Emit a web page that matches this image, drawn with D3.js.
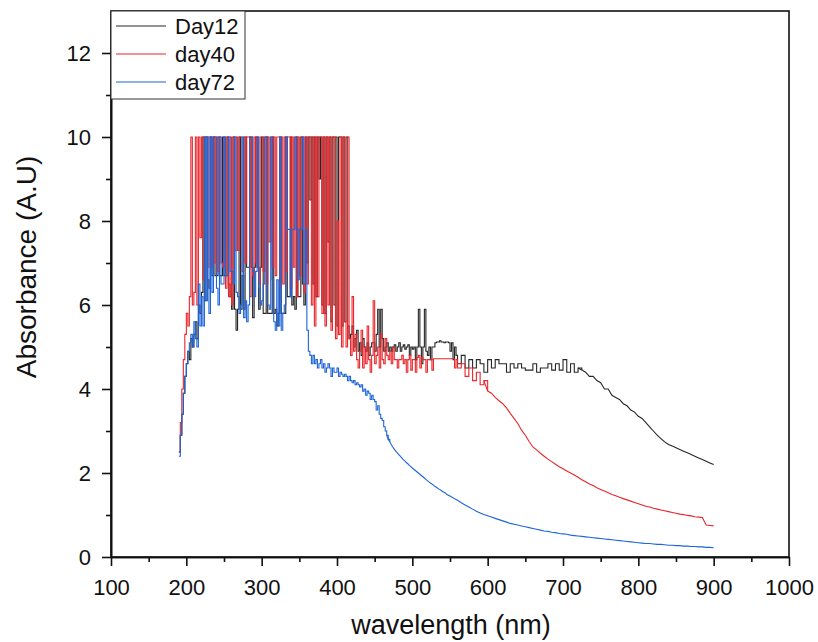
<!DOCTYPE html>
<html>
<head>
<meta charset="utf-8">
<script src="https://cdn.jsdelivr.net/npm/d3@7"></script>
<style>
  body { margin: 0; background: #fff; }
  svg { display: block; font-family: "Liberation Sans", Arial, sans-serif; }
</style>
</head>
<body>
<div class="chart"></div>
<script>
// measurement grid: 2 nm steps in the noisy UV part, 5 nm after that
const fineNm = d3.range(190, 560, 2);
const coarseNm = d3.range(560, 901, 5);

const seriesNames = ["Day12", "day40", "day72"];
const seriesColors = ["#262626", "#e8262b", "#1f64d8"];

const day12Fine = [
  2.5, 2.9, 3.4, 3.9, 4.3, 4.6, 4.9, 4.7, 5.2, 5.0, // 190-208
  5.3, 5.6, 5.2, 6.0, 5.8, 6.3, 10, 6.1, 10, 6.6, // 210-228
  6.4, 10, 6.7, 10, 6.7, 6.7, 10, 6.7, 6.7, 10, // 230-248
  6.7, 6.7, 10, 6.5, 6.2, 5.9, 10, 5.9, 5.4, 5.9, // 250-268
  10, 5.9, 6.7, 5.9, 10, 6.9, 6.9, 10, 6.9, 5.7, // 270-288
  6.9, 10, 6.9, 5.9, 6.9, 10, 5.8, 5.8, 10, 5.8, // 290-308
  5.8, 5.8, 10, 5.8, 5.9, 5.5, 5.8, 10, 5.8, 5.8, // 310-328
  5.8, 10, 6.2, 6.2, 10, 6.0, 6.2, 5.9, 10, 6.2, // 330-348
  6.2, 10, 6.5, 6.0, 10, 7.0, 10, 8.5, 10, 6.5, // 350-368
  10, 6.2, 10, 9.0, 10, 6.0, 10, 5.8, 10, 7.5, // 370-388
  10, 5.6, 10, 6.0, 10, 5.5, 10, 10, 5.5, 10, // 390-408
  5.6, 10, 5.5, 5.2, 5.3, 5.5, 5.0, 5.2, 5.4, 4.9, // 410-428
  5.1, 4.8, 5.2, 5.0, 4.9, 5.1, 4.8, 5.0, 5.1, 5.1, // 430-448
  4.9, 5.3, 5.9, 5.0, 5.9, 5.2, 4.9, 5.0, 5.1, 4.9, // 450-468
  5.0, 4.9, 5.0, 5.05, 4.9, 5.0, 5.1, 4.9, 5.0, 5.05, // 470-488
  4.95, 5.0, 5.05, 4.8, 5.0, 4.95, 5.0, 4.7, 5.0, 5.9, // 490-508
  5.0, 4.6, 5.0, 5.9, 4.9, 4.8, 5.0, 4.7, 5.0, 5.0, // 510-528
  5.1, 5.12, 5.12, 5.15, 5.12, 5.12, 5.1, 5.12, 5.12, 5.1, // 530-548
  4.9, 5.1, 4.7, 5.0, 4.8 // 550-558
];
const day12Coarse = [
  4.6, 4.8, 4.5, 4.7, 4.5, 4.7, 4.6, 4.4, 4.7, 4.5, // 560-605
  4.7, 4.6, 4.6, 4.4, 4.6, 4.5, 4.6, 4.5, 4.45, 4.45, // 610-655
  4.6, 4.4, 4.5, 4.5, 4.6, 4.45, 4.6, 4.45, 4.7, 4.4, // 660-705
  4.6, 4.4, 4.5, 4.45, 4.4, 4.3, 4.3, 4.2, 4.15, 4.0, // 710-755
  4.0, 3.85, 3.8, 3.75, 3.65, 3.6, 3.5, 3.45, 3.35, 3.3, // 760-805
  3.2, 3.1, 3.0, 2.9, 2.82, 2.74, 2.68, 2.64, 2.6, 2.56, // 810-855
  2.52, 2.48, 2.44, 2.4, 2.36, 2.32, 2.28, 2.24, 2.2 // 860-900
];

const day40Fine = [
  2.5, 3.2, 4.0, 4.7, 5.3, 5.8, 5.5, 6.2, 10, 6.0, // 190-208
  6.3, 10, 6.0, 10, 7.6, 10, 6.6, 10, 10, 6.9, // 210-228
  10, 10, 6.9, 10, 7.0, 10, 6.8, 10, 7.0, 6.9, // 230-248
  10, 6.4, 10, 6.2, 10, 6.0, 10, 7.3, 10, 7.3, // 250-268
  10, 10, 6.8, 10, 7.0, 10, 10, 6.2, 10, 6.7, // 270-288
  10, 7.0, 10, 6.5, 10, 10, 6.8, 10, 6.5, 10, // 290-308
  7.5, 10, 6.9, 10, 6.7, 10, 10, 6.4, 10, 6.5, // 310-328
  10, 6.8, 10, 10, 6.4, 10, 6.9, 10, 6.2, 10, // 330-348
  6.7, 10, 10, 6.3, 10, 6.5, 10, 10, 6.0, 10, // 350-368
  5.5, 10, 6.2, 10, 10, 5.8, 10, 5.5, 10, 6.0, // 370-388
  10, 5.4, 10, 10, 5.2, 8.0, 5.3, 10, 5.0, 10, // 390-408
  5.6, 5.0, 10, 5.2, 4.8, 6.2, 4.9, 5.3, 4.7, 4.5, // 410-428
  4.9, 5.4, 4.5, 5.0, 4.6, 5.5, 4.7, 4.4, 4.8, 6.1, // 430-448
  4.6, 4.8, 5.0, 4.5, 5.3, 4.7, 4.6, 5.2, 4.8, 4.7, // 450-468
  4.9, 4.6, 5.0, 4.7, 4.7, 4.5, 4.7, 4.7, 4.8, 4.6, // 470-488
  4.7, 4.4, 4.7, 4.8, 4.45, 4.7, 4.7, 4.4, 4.75, 4.8, // 490-508
  4.5, 4.75, 4.7, 4.7, 4.4, 4.7, 4.7, 4.7, 4.45, 4.72, // 510-528
  4.72, 4.72, 4.72, 4.72, 4.72, 4.72, 4.72, 4.72, 4.72, 4.72, // 530-548
  4.72, 4.72, 4.72, 4.5, 4.7 // 550-558
];
const day40Coarse = [
  4.5, 4.6, 4.3, 4.5, 4.2, 4.4, 4.1, 4.2, 3.95, 3.9, // 560-605
  3.8, 3.72, 3.65, 3.55, 3.42, 3.3, 3.18, 3.02, 2.9, 2.75, // 610-655
  2.62, 2.55, 2.47, 2.4, 2.33, 2.27, 2.21, 2.15, 2.1, 2.05, // 660-705
  2.0, 1.95, 1.9, 1.84, 1.79, 1.74, 1.7, 1.65, 1.61, 1.57, // 710-755
  1.53, 1.49, 1.46, 1.42, 1.39, 1.36, 1.33, 1.3, 1.27, 1.24, // 760-805
  1.21, 1.19, 1.16, 1.14, 1.12, 1.1, 1.08, 1.06, 1.04, 1.02, // 810-855
  1.01, 0.99, 0.98, 0.96, 0.95, 0.94, 0.76, 0.75, 0.74 // 860-900
];

const day72Fine = [
  2.4, 2.9, 3.4, 3.9, 4.3, 4.6, 4.9, 5.1, 5.3, 5.0, // 190-208
  5.6, 5.2, 5.0, 6.5, 5.5, 6.2, 5.5, 10, 6.1, 10, // 210-228
  5.8, 10, 6.3, 10, 10, 6.4, 6.0, 10, 6.5, 6.5, // 230-248
  10, 6.7, 6.7, 10, 6.8, 6.8, 6.5, 10, 6.3, 6.2, // 250-268
  5.8, 6.0, 10, 5.7, 6.1, 5.6, 6.0, 10, 10, 6.8, // 270-288
  6.2, 6.8, 10, 6.4, 6.0, 6.1, 6.5, 10, 10, 6.0, // 290-308
  5.9, 10, 6.6, 5.6, 5.4, 6.6, 5.5, 10, 5.4, 5.8, // 310-328
  6.0, 10, 7.8, 7.8, 6.2, 7.8, 7.8, 10, 7.8, 6.6, // 330-348
  7.8, 7.8, 10, 6.5, 7.8, 5.4, 4.9, 4.8, 4.6, 4.8, // 350-368
  4.6, 4.7, 4.5, 4.6, 4.7, 4.5, 4.6, 4.4, 4.5, 4.6, // 370-388
  4.5, 4.3, 4.5, 4.4, 4.4, 4.5, 4.3, 4.4, 4.35, 4.3, // 390-408
  4.35, 4.3, 4.2, 4.3, 4.2, 4.15, 4.2, 4.1, 4.15, 4.1, // 410-428
  4.05, 4.1, 3.95, 4.0, 3.85, 3.95, 3.9, 3.75, 3.85, 3.75, // 430-448
  3.7, 3.5, 3.6, 3.4, 3.3, 3.25, 3.1, 3.0, 2.9, 2.8, // 450-468
  2.75, 2.68, 2.62, 2.57, 2.52, 2.48, 2.44, 2.4, 2.36, 2.32, // 470-488
  2.29, 2.25, 2.22, 2.18, 2.15, 2.12, 2.09, 2.06, 2.03, 2.0, // 490-508
  1.97, 1.94, 1.91, 1.88, 1.85, 1.82, 1.79, 1.76, 1.74, 1.71, // 510-528
  1.68, 1.66, 1.63, 1.61, 1.59, 1.56, 1.54, 1.52, 1.49, 1.47, // 530-548
  1.45, 1.43, 1.41, 1.39, 1.37 // 550-558
];
const day72Coarse = [
  1.35, 1.29, 1.24, 1.19, 1.14, 1.09, 1.05, 1.01, 0.98, 0.95, // 560-605
  0.92, 0.89, 0.86, 0.83, 0.8, 0.78, 0.76, 0.74, 0.72, 0.7, // 610-655
  0.68, 0.66, 0.64, 0.62, 0.61, 0.59, 0.58, 0.56, 0.55, 0.54, // 660-705
  0.52, 0.51, 0.5, 0.49, 0.48, 0.47, 0.46, 0.45, 0.44, 0.43, // 710-755
  0.42, 0.41, 0.4, 0.39, 0.38, 0.37, 0.36, 0.35, 0.34, 0.33, // 760-805
  0.32, 0.32, 0.31, 0.3, 0.3, 0.29, 0.28, 0.28, 0.27, 0.27, // 810-855
  0.26, 0.26, 0.25, 0.25, 0.24, 0.24, 0.23, 0.23, 0.22 // 860-900
];

const xMajorTicks = [100, 200, 300, 400, 500, 600, 700, 800, 900, 1000];
const xMinorTicks = [150, 250, 350, 450, 550, 650, 750, 850, 950];
const yMajorTicks = [0, 2, 4, 6, 8, 10, 12];
const yMinorTicks = [1, 3, 5, 7, 9, 11];

const width = 818;
const height = 642;
const margin = { top: 11, right: 29, bottom: 85, left: 111 };

// where each trace stops looking stepped (the detector noise region)
const stepEnds = [725, 600, 470];

const svg = d3
  .select("div.chart")
  .append("svg")
  .attr("width", width)
  .attr("height", height);

const x = d3.scaleLinear().domain([100, 1000]).range([margin.left, width - margin.right]);
const y = d3.scaleLinear().domain([0, 13]).range([height - margin.bottom, margin.top]);

// zip grid + values into point lists
const allNm = fineNm.concat(coarseNm);
const seriesValues = [
  day12Fine.concat(day12Coarse),
  day40Fine.concat(day40Coarse),
  day72Fine.concat(day72Coarse),
];
const series = seriesNames.map((name, i) => ({
  name: name,
  color: seriesColors[i],
  stepEnd: stepEnds[i],
  points: seriesValues[i]
    .map((v, j) => ({ nm: allNm[j], a: v }))
    .filter((p) => p.nm !== undefined),
}));

const stepLine = d3
  .line()
  .curve(d3.curveStepAfter)
  .x((d) => x(d.nm))
  .y((d) => y(d.a));

const smoothLine = d3
  .line()
  .x((d) => x(d.nm))
  .y((d) => y(d.a));

const traces = svg
  .append("g")
  .selectAll("g")
  .data(series)
  .enter()
  .append("g")
  .attr("fill", "none")
  .attr("stroke", (d) => d.color)
  .attr("stroke-width", 1.1);

traces
  .append("path")
  .attr("d", (d) => stepLine(d.points.filter((p) => p.nm <= d.stepEnd)));

traces
  .append("path")
  .attr("d", (d) => smoothLine(d.points.filter((p) => p.nm >= d.stepEnd - 5)));

// frame: top + right lines
svg
  .append("rect")
  .attr("x", margin.left)
  .attr("y", margin.top)
  .attr("width", width - margin.right - margin.left)
  .attr("height", height - margin.bottom - margin.top)
  .attr("fill", "none")
  .attr("stroke", "#111")
  .attr("stroke-width", 1.6);

// axes, major + minor
const xAxisG = svg.append("g").attr("transform", `translate(0, ${height - margin.bottom})`);
xAxisG.call(
  d3.axisBottom(x).tickValues(xMajorTicks).tickSize(9).tickSizeOuter(0).tickPadding(13).tickFormat(d3.format("d"))
);
xAxisG
  .append("g")
  .call(d3.axisBottom(x).tickValues(xMinorTicks).tickSize(5).tickSizeOuter(0).tickFormat(""));

const yAxisG = svg.append("g").attr("transform", `translate(${margin.left}, 0)`);
yAxisG.call(
  d3.axisLeft(y).tickValues(yMajorTicks).tickSize(9).tickSizeOuter(0).tickPadding(11).tickFormat(d3.format("d"))
);
yAxisG
  .append("g")
  .call(d3.axisLeft(y).tickValues(yMinorTicks).tickSize(5).tickSizeOuter(0).tickFormat(""));

svg.selectAll(".domain").attr("stroke", "#111").attr("stroke-width", 1.6);
svg.selectAll(".tick line").attr("stroke", "#111").attr("stroke-width", 1.6);
svg
  .selectAll(".tick text")
  .attr("fill", "#111")
  .style("font-size", "22px")
  .style("font-family", '"Liberation Sans", Arial, sans-serif');

// axis titles
svg
  .append("text")
  .attr("x", 451)
  .attr("y", 634)
  .attr("text-anchor", "middle")
  .attr("fill", "#111")
  .style("font-size", "27px")
  .text("wavelength (nm)");

svg
  .append("text")
  .attr("transform", "translate(36, 267) rotate(-90)")
  .attr("text-anchor", "middle")
  .attr("fill", "#111")
  .style("font-size", "28px")
  .text("Absorbance (A.U)");

// legend box in the top-left corner
const legend = svg.append("g").attr("transform", `translate(${margin.left}, ${margin.top})`);
legend
  .append("rect")
  .attr("width", 134)
  .attr("height", 88)
  .attr("fill", "#fff")
  .attr("stroke", "#333")
  .attr("stroke-width", 1);

const legendRows = legend
  .selectAll("g.row")
  .data(series)
  .enter()
  .append("g")
  .attr("class", "row")
  .attr("transform", (d, i) => `translate(0, ${15 + i * 28})`);

legendRows
  .append("line")
  .attr("x1", 5)
  .attr("x2", 55)
  .attr("stroke", (d) => d.color)
  .attr("stroke-width", 1.1);

legendRows
  .append("text")
  .attr("x", 64)
  .attr("y", 8)
  .attr("fill", "#111")
  .style("font-size", "22px")
  .text((d) => d.name);
</script>
</body>
</html>
